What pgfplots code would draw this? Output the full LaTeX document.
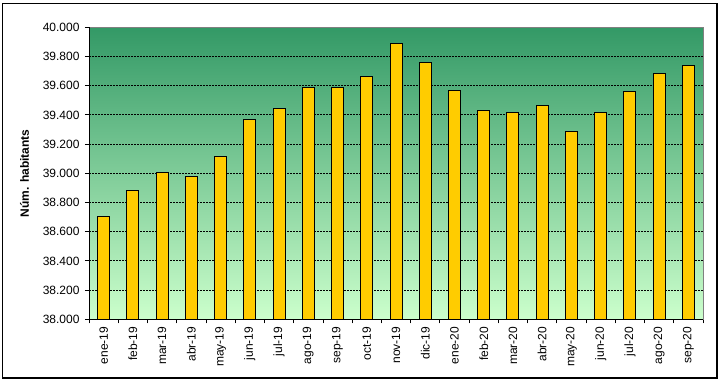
\documentclass[border=0pt]{standalone}
\usepackage{pgfplots}
\pgfplotsset{compat=1.18}
\usepackage{fontspec}
\setmainfont{Liberation Sans}
\definecolor{barfill}{HTML}{FFCC00}
\definecolor{bgtop}{HTML}{339966}
\definecolor{bgbot}{HTML}{CCFFCC}
\begin{document}
\begin{tikzpicture}
\fill[white] (0pt,0pt) rectangle (721pt,382pt);
\draw[black, line width=1.5pt] (2.5pt,4pt) rectangle (717pt,378.5pt);
\begin{axis}[
  at={(89pt,62.7pt)}, anchor=south west,
  scale only axis, width=614pt, height=292pt,
  xmin=-0.5, xmax=20.5,
  ymin=38000, ymax=40000,
  ytick distance=200,
  scaled y ticks=false,
  xtick={-0.5,0.5,...,20.5},
  x tick label as interval,
  xticklabels={ene-19,feb-19,mar-19,abr-19,may-19,jun-19,jul-19,ago-19,sep-19,oct-19,nov-19,dic-19,ene-20,feb-20,mar-20,abr-20,may-20,jun-20,jul-20,ago-20,sep-20},
  xtick pos=bottom, ytick pos=left,
  tick align=outside,
  major tick length=4pt,
  tick style={black, line width=0.8pt},
  xticklabel style={rotate=90, anchor=east, font=\fontsize{12}{14}\selectfont},
  yticklabel style={font=\fontsize{12}{14}\selectfont, xshift=-2pt, /pgf/number format/.cd, fixed, precision=0, 1000 sep={.}, assume math mode=true},
  ymajorgrids,
  major grid style={black, line width=0.8pt, dash pattern=on 2pt off 1pt},
  axis line style={draw=gray, line width=1pt},
  axis background/.style={top color=bgtop, bottom color=bgbot},
  ylabel={Núm. habitants},
  ylabel style={at={(axis description cs:-0.105,0.5)}, anchor=center, font=\fontsize{12}{14}\selectfont\bfseries},
  ybar, bar width=12pt,
  after end axis/.code={
    \draw[black, line width=1pt] (rel axis cs:0,1) -- (rel axis cs:0,0) -- (rel axis cs:1,0);
  },
]
\addplot[fill=barfill, draw=black, line width=1pt] coordinates {
(0,38707) (1,38881) (2,39007) (3,38979) (4,39116) (5,39370) (6,39445)
(7,39589) (8,39589) (9,39664) (10,39890) (11,39760) (12,39568) (13,39431)
(14,39418) (15,39466) (16,39288) (17,39418) (18,39562) (19,39685) (20,39740)
};
\end{axis}
\end{tikzpicture}
\end{document}
